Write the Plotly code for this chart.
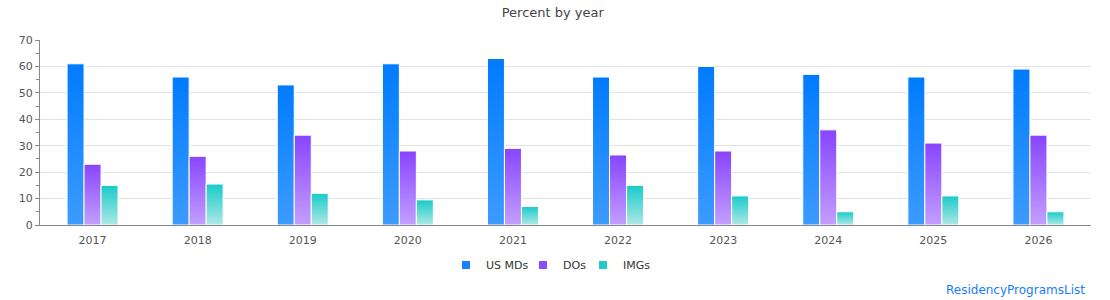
import plotly.graph_objects as go

years = ["2017", "2018", "2019", "2020", "2021", "2022", "2023", "2024", "2025", "2026"]
us_mds = [61, 56, 53, 61, 63, 56, 60, 57, 56, 59]
dos = [23, 26, 34, 28, 29, 26.5, 28, 36, 31, 34]
imgs = [15, 15.5, 12, 9.5, 7, 15, 11, 5, 11, 5]

series_names = ["US MDs", "DOs", "IMGs"]
series_values = [us_mds, dos, imgs]
top_colors = ["#007bff", "#8844ff", "#18cbc9"]
bottom_colors = ["#3d9bff", "#c39fff", "#aee8e6"]
legend_colors = ["#1a80ff", "#8a4cff", "#1ecbc9"]
legend_left_px = [446, 523, 583]

FONT = "DejaVu Sans"

fig = go.Figure()
for name, vals, col in zip(series_names, series_values, top_colors):
    fig.add_trace(go.Bar(
        x=years, y=vals, name=name, showlegend=False,
        marker=dict(color=col, line=dict(color="white", width=1)),
    ))
# legend entries with small square swatches, one legend per entry for exact spacing
legend_ids = ["legend", "legend2", "legend3"]
for name, col, lid in zip(series_names, legend_colors, legend_ids):
    fig.add_trace(go.Scatter(
        x=[None], y=[None], name=name, mode="markers", legend=lid,
        marker=dict(symbol="square", size=8, color=col),
    ))

legend_common = dict(orientation="h", xref="paper", xanchor="left",
                     y=(225 - 265) / 185, yref="paper", yanchor="middle",
                     font=dict(family=FONT, size=11, color="#333"),
                     itemwidth=30, itemclick=False, bgcolor="rgba(0,0,0,0)")
legends = {lid: dict(legend_common, x=(px - 40) / 1051) for lid, px in zip(legend_ids, legend_left_px)}

fig.update_layout(
    width=1110, height=300, autosize=False,
    margin=dict(l=40, r=19, t=40, b=75, autoexpand=False),
    paper_bgcolor="white", plot_bgcolor="white",
    font=dict(family=FONT, size=11, color="#555"),
    barmode="group", bargap=0.515, bargroupgap=0,
    title=dict(text="Percent by year", x=0.498, xref="container", xanchor="center",
               y=1 - 12 / 300, yref="container", yanchor="middle",
               font=dict(family=FONT, size=13, color="#444")),
    showlegend=True,
    xaxis=dict(showline=True, linecolor="#888", linewidth=1, ticks="outside",
               ticklen=5, tickcolor="rgba(0,0,0,0)",
               tickfont=dict(family=FONT, size=11, color="#555"), showgrid=False,
               fixedrange=True),
    yaxis=dict(range=[0, 70], dtick=10, showline=True, linecolor="#888", linewidth=1,
               ticks="outside", ticklen=4, tickcolor="#888", tickwidth=1,
               minor=dict(dtick=5, ticks="outside", ticklen=3, tickcolor="#888", showgrid=False),
               showgrid=True, gridcolor="#e3e3e3", gridwidth=1, zeroline=False,
               tickfont=dict(family=FONT, size=11, color="#555"), fixedrange=True),
    annotations=[dict(text="ResidencyProgramsList", xref="paper", yref="paper",
                      x=(1087 - 40) / 1051, y=(225 - 290) / 185, xanchor="right", yanchor="middle",
                      showarrow=False, font=dict(family=FONT, size=12, color="#1a7cff"))],
    **legends,
)

grad_js = """
var gd = document.getElementById('{plot_id}');
var TOPS = %s, BOTS = %s;
function applyGrad(){
  var svg = gd.querySelector('svg.main-svg');
  if(!svg) return;
  var ns = 'http://www.w3.org/2000/svg';
  var defs = svg.querySelector('defs');
  if(!defs){ defs = document.createElementNS(ns,'defs'); svg.insertBefore(defs, svg.firstChild); }
  for (var i=0;i<TOPS.length;i++){
    if (document.getElementById('bargrad'+i)) continue;
    var lg = document.createElementNS(ns,'linearGradient');
    lg.setAttribute('id','bargrad'+i);
    lg.setAttribute('x1','0'); lg.setAttribute('y1','0');
    lg.setAttribute('x2','0'); lg.setAttribute('y2','1');
    var s1 = document.createElementNS(ns,'stop'); s1.setAttribute('offset','0'); s1.setAttribute('stop-color',TOPS[i]);
    var s2 = document.createElementNS(ns,'stop'); s2.setAttribute('offset','1'); s2.setAttribute('stop-color',BOTS[i]);
    lg.appendChild(s1); lg.appendChild(s2); defs.appendChild(lg);
  }
  var traces = gd.querySelectorAll('.barlayer .trace');
  traces.forEach(function(t,i){
    t.querySelectorAll('path').forEach(function(p){ p.style.fill = 'url(#bargrad'+i+')'; });
  });
}
applyGrad();
gd.on('plotly_afterplot', applyGrad);
""" % (str(top_colors).replace("'", '"'), str(bottom_colors).replace("'", '"'))

fig.write_html("out.html", post_script=grad_js, config={"displayModeBar": False})
